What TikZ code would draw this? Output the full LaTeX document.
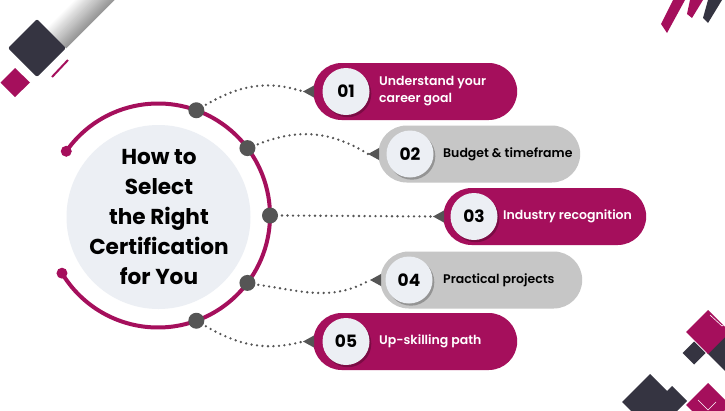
\documentclass[tikz,border=0pt]{standalone}
\usepackage{fontspec}
\setmainfont{Poppins}
\newfontfamily\semib{Poppins SemiBold}
\usetikzlibrary{calc,shapes.misc}
\definecolor{mag}{HTML}{A50F5C}
\definecolor{navy}{HTML}{353441}
\definecolor{pillgray}{HTML}{C6C6C6}
\definecolor{light}{HTML}{ECEFF4}
\definecolor{dotgray}{HTML}{555555}
\begin{document}
\begin{tikzpicture}[x=1pt,y=-1pt,
  pill/.style={rounded rectangle, minimum width=#1, minimum height=57pt, inner sep=0pt, anchor=west},
  numcirc/.style={circle, fill=light, minimum size=47pt, inner sep=0pt, font=\bfseries\fontsize{17}{17}\selectfont},
  pilltext/.style={anchor=west, align=left, font=\semib\fontsize{12.5}{17}\selectfont, inner sep=0pt},
  dotline/.style={draw=dotgray, line width=2.6pt, dash pattern=on 0pt off 5.5pt, line cap=round},
  knob/.style={circle, fill=dotgray, minimum size=16pt, inner sep=0pt},
  endknob/.style={circle, fill=mag, minimum size=11pt, inner sep=0pt}]
\useasboundingbox (0,0) rectangle (725,410);
\fill[white] (0,0) rectangle (725,410);

% top-left decoration: shadow band
\foreach \i in {0,...,29}{
  \pgfmathsetmacro{\ta}{\i/30}
  \pgfmathsetmacro{\tb}{(\i+1.3)/30}
  \pgfmathsetmacro{\g}{max(0,(\ta-0.3)/0.7)*42}
  \fill[black!\g] (37+29*\ta,19+29*\ta) -- (37+29*\tb,19+29*\tb) -- (56+58*\tb,0) -- (56+58*\ta,0) -- cycle;
}
\fill[navy, rounded corners=2pt] (37,19) -- (66,48) -- (37,77) -- (8,48) -- cycle;
\fill[mag] (15,68) -- (30,82.5) -- (15,97) -- (0.5,82.5) -- cycle;
\draw[mag, line width=2pt] (52,77) -- (68,60);

% top-right decoration
\fill[mag] (673,0) -- (685,0) -- (667,33) -- (661,24) -- cycle;
\fill[mag] (690,0) -- (703,0) -- (692,18) -- (687,14) -- cycle;
\fill[navy] (708,0) -- (722,0) -- (708,23) -- (703,18) -- cycle;

% bottom-right decoration
\fill[navy] (730,330) -- (753,353) -- (730,376) -- (707,353) -- cycle;
\fill[mag] (708,310) -- (730,332) -- (708,354) -- (686,332) -- cycle;
\draw[white, line width=0.6pt] (710,315) -- (722,326) -- (725,324);
\fill[navy] (694,341.5) -- (705.5,353) -- (694,364.5) -- (682.5,353) -- cycle;
\fill[navy] (650,374) -- (678,402) -- (650,430) -- (622,402) -- cycle;
\fill[navy] (672,386) -- (687,401) -- (672,416) -- (657,401) -- cycle;
\fill[mag] (708,383) -- (730,405) -- (708,427) -- (686,405) -- cycle;
\draw[white, line width=0.6pt] (698,400) -- (708,410) -- (716,402);

% central circle
\fill[light] (158.5,217) circle (92);
\draw[mag, line width=4pt] (158,215.5) ++(-145:112) arc[start angle=-145, end angle=149, radius=112];
\node[endknob] (e1) at ($(158,215.5)+(-145:112)$) {};
\node[endknob] (e2) at ($(158,215.5)+(149:112)$) {};
\node[font=\bfseries\fontsize{21.6}{30}\selectfont, align=center, inner sep=0pt] (title) at (159,217) {How to\\Select\\the Right\\Certification\\for You};

% pills
\node[pill=204pt, fill=mag] (p1) at (313,91.5) {};
\node[pill=202pt, fill=pillgray] (p2) at (378,154) {};
\node[pill=203pt, fill=mag] (p3) at (443,216.5) {};
\node[pill=202pt, fill=pillgray] (p4) at (380,280) {};
\node[pill=204pt, fill=mag] (p5) at (313,341.5) {};

% number circles with shadow
\foreach \x/\y in {346/91.5, 410/154, 474/216.5, 409/280, 346/341.5}{
  \fill[black, opacity=0.25] (\x+1.8,\y+2.2) circle (23.5);
}
\node[numcirc] (n1) at (346,91.5) {01};
\node[numcirc] (n2) at (410,154) {02};
\node[numcirc] (n3) at (474,216.5) {03};
\node[numcirc] (n4) at (409,280) {04};
\node[numcirc] (n5) at (346,341.5) {05};

\node[pilltext, text=white] (t1) at (379,91.5) {Understand your\\career goal};
\node[pilltext, text=black] (t2) at (443,154) {Budget \& timeframe};
\node[pilltext, text=white] (t3) at (503,216.5) {Industry recognition};
\node[pilltext, text=black] (t4) at (443,280) {Practical projects};
\node[pilltext, text=white] (t5) at (379,341.5) {Up-skilling path};

% arrow tips
\foreach \i in {1,...,5}{
  \coordinate (a\i) at ($(p\i.west)+(-10,0)$);
  \fill[dotgray] (a\i) -- ($(p\i.west)+(1,-6)$) -- ($(p\i.west)+(1,6)$) -- cycle;
}

% knobs on arc
\node[knob] (k1) at ($(158,215.5)+(-70:112)$) {};
\node[knob] (k2) at ($(158,215.5)+(-37:112)$) {};
\node[knob] (k3) at ($(158,215.5)+(0:112)$) {};
\node[knob] (k4) at ($(158,215.5)+(37:112)$) {};
\node[knob] (k5) at ($(158,215.5)+(70:112)$) {};

% connectors (to-path angles are in page orientation)
\path[dotline] (k1.center) ++(-30:11) to[out=30, in=162] (a1);
\path[dotline] (k2.center) ++(-20:11) to[out=22, in=148] (a2);
\path[dotline] (k3.center) ++(0:12) -- (a3);
\path[dotline] (k4.center) ++(10:11) to[out=-8, in=-150] (a4);
\path[dotline] (k5.center) ++(30:11) to[out=-30, in=-165] (a5);
\end{tikzpicture}
\end{document}
